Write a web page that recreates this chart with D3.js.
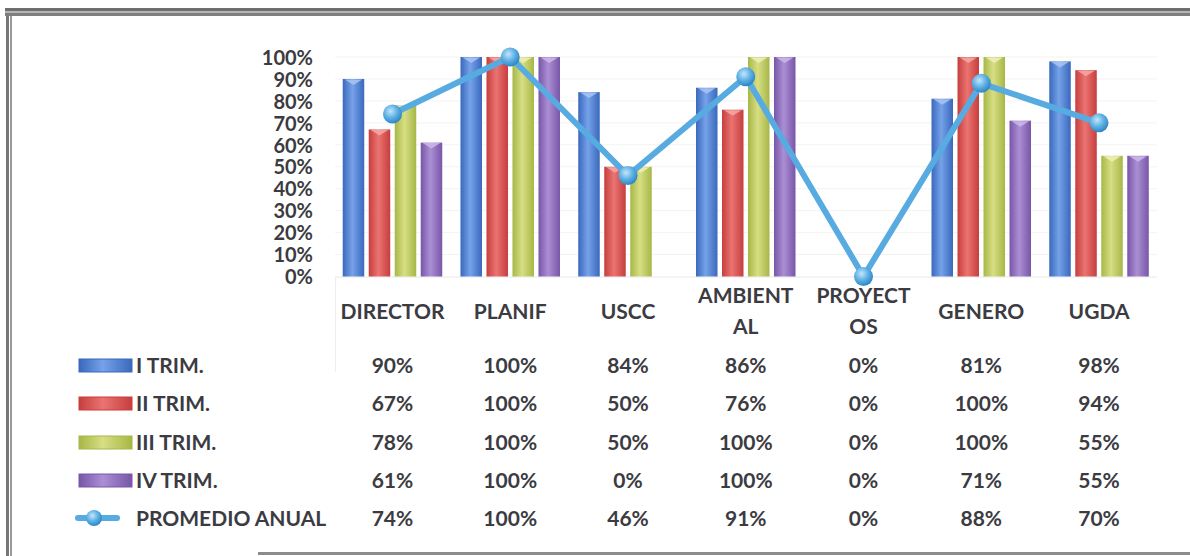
<!DOCTYPE html>
<html>
<head>
<meta charset="utf-8">
<script src="https://cdn.jsdelivr.net/npm/d3@7"></script>
<style>
  html, body { margin: 0; padding: 0; background: #ffffff; }
  svg { display: block; }
  text { font-family: Lato, "Open Sans", sans-serif; font-weight: 700; fill: #3b3b41; }
</style>
</head>
<body>
<svg id="chart" width="1190" height="556"></svg>
<script>
// Quarterly completion per unit
const categories = ["DIRECTOR", "PLANIF", "USCC", "AMBIENTAL", "PROYECTOS", "GENERO", "UGDA"];
const categoryLines = [["DIRECTOR"], ["PLANIF"], ["USCC"], ["AMBIENT", "AL"], ["PROYECT", "OS"], ["GENERO"], ["UGDA"]];
const seriesNames = ["I TRIM.", "II TRIM.", "III TRIM.", "IV TRIM."];
const trim1 = [0.90, 1.00, 0.84, 0.86, 0.00, 0.81, 0.98];
const trim2 = [0.67, 1.00, 0.50, 0.76, 0.00, 1.00, 0.94];
const trim3 = [0.78, 1.00, 0.50, 1.00, 0.00, 1.00, 0.55];
const trim4 = [0.61, 1.00, 0.00, 1.00, 0.00, 0.71, 0.55];
const lineName = "PROMEDIO ANUAL";
const promedio = [0.74, 1.00, 0.46, 0.91, 0.00, 0.88, 0.70];
const yTicks = [0, 0.1, 0.2, 0.3, 0.4, 0.5, 0.6, 0.7, 0.8, 0.9, 1.0];

const seriesValues = [trim1, trim2, trim3, trim4];
const barColors = [
  { dark: "#3a68bd", light: "#75a2e8", cap: "#a9c6f2" },
  { dark: "#c63e3d", light: "#ea7472", cap: "#f4a9a7" },
  { dark: "#a7b746", light: "#d7de84", cap: "#eef0b8" },
  { dark: "#7856a8", light: "#ab8fd4", cap: "#cdb9ea" }
];
const lineColor = "#58abe0";
const FS = 21;

const svg = d3.select("#chart");
const defs = svg.append("defs");

barColors.forEach((c, i) => {
  const g = defs.append("linearGradient").attr("id", "bar" + i)
    .attr("x1", "0%").attr("x2", "100%").attr("y1", "0%").attr("y2", "0%");
  g.append("stop").attr("offset", "0%").attr("stop-color", c.dark);
  g.append("stop").attr("offset", "45%").attr("stop-color", c.light);
  g.append("stop").attr("offset", "100%").attr("stop-color", c.dark);
});
const mg = defs.append("radialGradient").attr("id", "marker")
  .attr("cx", "40%").attr("cy", "35%").attr("r", "65%");
mg.append("stop").attr("offset", "0%").attr("stop-color", "#c4e6fa");
mg.append("stop").attr("offset", "55%").attr("stop-color", "#5db0e4");
mg.append("stop").attr("offset", "100%").attr("stop-color", "#2f86c4");

// Frame
svg.append("rect").attr("x", 5).attr("y", 8).attr("width", 1185).attr("height", 3).attr("fill", "#6f6f6f");
svg.append("rect").attr("x", 5).attr("y", 11).attr("width", 1185).attr("height", 2).attr("fill", "#b5b5b5");
svg.append("rect").attr("x", 5).attr("y", 13).attr("width", 1185).attr("height", 3).attr("fill", "#7f7f7f");
svg.append("rect").attr("x", 6).attr("y", 16).attr("width", 3).attr("height", 540).attr("fill", "#777777");
svg.append("rect").attr("x", 10).attr("y", 16).attr("width", 2).attr("height", 540).attr("fill", "#999999");
svg.append("rect").attr("x", 258).attr("y", 552).attr("width", 932).attr("height", 3).attr("fill", "#8c8c8c");

// Scales
const x = d3.scaleBand().domain(categories).range([333.6, 1157.9]);
const xs = d3.scaleBand().domain(seriesNames).range([0, x.bandwidth()])
  .paddingInner(0.173).paddingOuter(0.351);
const y = d3.scaleLinear().domain([0, 1]).range([276.5, 57]);

// Gridlines
svg.append("g").selectAll("line").data(yTicks.slice(1)).join("line")
  .attr("x1", 335).attr("x2", 1157)
  .attr("y1", d => y(d)).attr("y2", d => y(d))
  .attr("stroke", "#f3f3f3").attr("stroke-width", 1);
svg.append("line").attr("x1", 335).attr("x2", 1157).attr("y1", y(0) + 0.5).attr("y2", y(0) + 0.5)
  .attr("stroke", "#e8e8e8");
svg.append("line").attr("x1", 335.5).attr("x2", 335.5).attr("y1", y(0)).attr("y2", 372)
  .attr("stroke", "#eeeeee");

// Y axis
const yAxis = svg.append("g").attr("transform", "translate(313,0)")
  .call(d3.axisLeft(y).tickValues(yTicks).tickFormat(d3.format(".0%")).tickSize(0).tickPadding(0));
yAxis.select(".domain").remove();
yAxis.selectAll("text").attr("font-size", 20).attr("dy", "0.36em")
  .style("font-family", "Lato, 'Open Sans', sans-serif").style("font-weight", 700).attr("fill", "#3b3b41");

// Bars
const groups = svg.append("g").selectAll("g").data(categories).join("g")
  .attr("transform", d => `translate(${x(d)},0)`);
seriesNames.forEach((s, si) => {
  const bw = xs.bandwidth();
  groups.each(function (cat, ci) {
    const v = seriesValues[si][ci];
    if (v <= 0) return;
    const g = d3.select(this);
    const bx = xs(s), by = y(v);
    g.append("rect").attr("x", bx).attr("y", by).attr("width", bw).attr("height", y(0) - by)
      .attr("fill", `url(#bar${si})`);
    g.append("path")
      .attr("d", `M${bx + 2},${by + 0.5} L${bx + bw - 2},${by + 0.5} L${bx + bw / 2},${by + 6} Z`)
      .attr("fill", barColors[si].cap).attr("opacity", 0.85);
  });
});

// Annual average line
const cx = d => x(d) + x.bandwidth() / 2;
const lineGen = d3.line().x((d, i) => cx(categories[i])).y(d => y(d));
svg.append("path").datum(promedio).attr("d", lineGen)
  .attr("fill", "none").attr("stroke", lineColor).attr("stroke-width", 6)
  .attr("stroke-linejoin", "round");
svg.append("g").selectAll("circle").data(promedio).join("circle")
  .attr("cx", (d, i) => cx(categories[i])).attr("cy", d => y(d)).attr("r", 9.5)
  .attr("fill", "url(#marker)");

// Data table: category headers
const header = svg.append("g");
categoryLines.forEach((lines, i) => {
  const t = header.append("text").attr("text-anchor", "middle").attr("font-size", FS);
  const centerY = 311;
  const spacing = 31;
  lines.forEach((ln, li) => {
    const cy = centerY + (li - (lines.length - 1) / 2) * spacing;
    t.append("tspan").attr("x", cx(categories[i])).attr("y", cy + 7.5).text(ln);
  });
});

// Data table rows
const rowY = [365, 403, 442, 480, 518];
const rows = seriesValues.concat([promedio]);
const rowNames = seriesNames.concat([lineName]);
const fmt = d3.format(".0%");
rows.forEach((vals, ri) => {
  svg.append("g").selectAll("text").data(vals).join("text")
    .attr("x", (d, i) => cx(categories[i])).attr("y", rowY[ri] + 7.5)
    .attr("text-anchor", "middle").attr("font-size", FS)
    .text(d => fmt(d));
  svg.append("text").attr("x", 136).attr("y", rowY[ri] + 7.5).attr("font-size", FS)
    .text(rowNames[ri]);
});

// Legend keys
seriesNames.forEach((s, si) => {
  svg.append("rect").attr("x", 79).attr("y", rowY[si] - 6).attr("width", 53).attr("height", 13)
    .attr("fill", `url(#bar${si})`);
  svg.append("rect").attr("x", 79).attr("y", rowY[si] - 6).attr("width", 53).attr("height", 13)
    .attr("fill", "none").attr("stroke", barColors[si].dark).attr("stroke-width", 1);
});
const ly = rowY[4];
svg.append("line").attr("x1", 78).attr("x2", 117).attr("y1", ly).attr("y2", ly)
  .attr("stroke", lineColor).attr("stroke-width", 6).attr("stroke-linecap", "round");
svg.append("circle").attr("cx", 94).attr("cy", ly).attr("r", 8).attr("fill", "url(#marker)");
</script>
</body>
</html>
